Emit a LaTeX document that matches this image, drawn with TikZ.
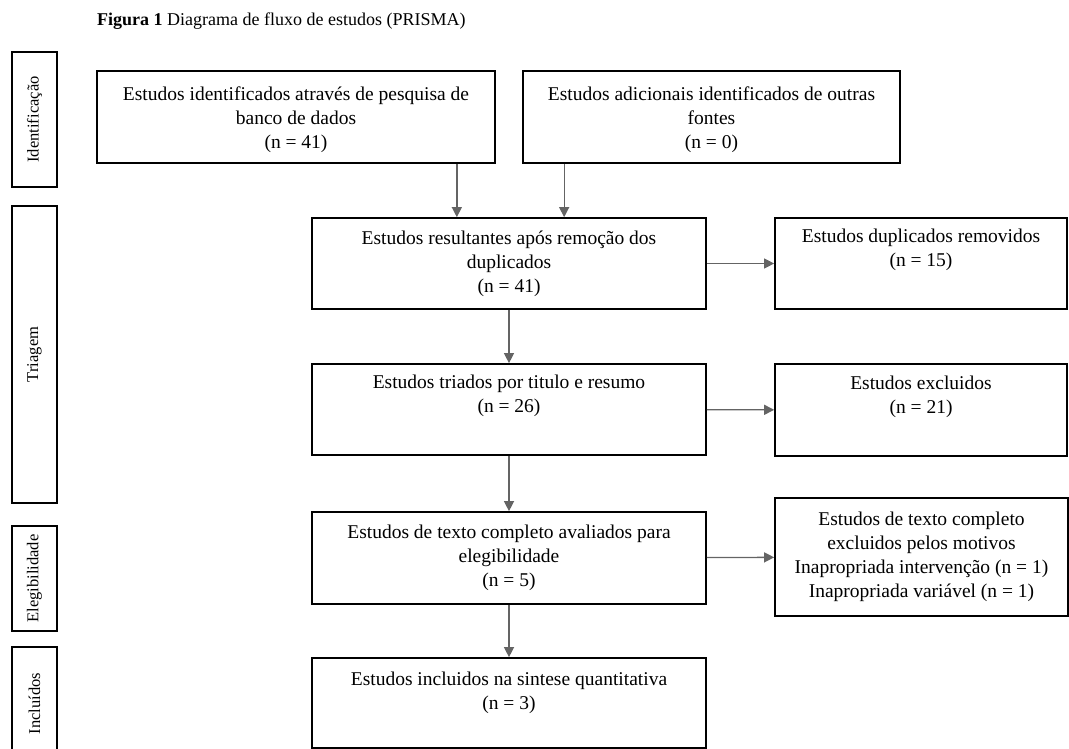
\documentclass[tikz,border=0pt]{standalone}
\usepackage{fontspec}
\setmainfont{Liberation Serif}
\usetikzlibrary{arrows.meta}
\definecolor{setacor}{RGB}{100,100,100}

\tikzset{
  caixa/.style={draw, line width=1.7pt, align=center, inner sep=0pt,
    font=\fontsize{19.5}{24}\selectfont},
  fase/.style={draw, line width=1.7pt, rotate=90, inner sep=0pt,
    minimum height=45pt, font=\fontsize{16.5}{20}\selectfont},
  seta/.style={draw=setacor, line width=1.3pt,
    -{Triangle[length=10pt,width=10pt,fill=setacor]}},
}

\begin{document}
\begin{tikzpicture}[x=1pt, y=-1pt]
\useasboundingbox (0,0) rectangle (1069,749);
\clip (0,0) rectangle (1069,749);

% Titulo
\node[anchor=base west, inner sep=0pt, font=\fontsize{18}{22}\selectfont] (titulo) at (97,26)
  {\textbf{Figura 1} Diagrama de fluxo de estudos (PRISMA)};

% Fases
\node[fase, minimum width=135pt] (fI) at (34.5,119.5) {Identificação};
\node[fase, minimum width=297pt] (fT) at (34.5,354.5) {Triagem};
\node[fase, minimum width=105pt] (fE) at (34.5,578.5) {Elegibilidade};
\node[fase, minimum width=113pt] (fN) at (34.5,703.5) {Incluídos};

% Identificacao
\node[caixa, minimum width=398pt, minimum height=92pt] (A) at (296,117)
  {\rule{0pt}{20pt}Estudos identificados através de pesquisa de\\banco de dados\\(n = 41)};
\node[caixa, minimum width=377pt, minimum height=92pt] (B) at (711.5,117)
  {\rule{0pt}{20pt}Estudos adicionais identificados de outras\\fontes\\(n = 0)};

% Triagem
\node[caixa, minimum width=394pt, minimum height=91pt] (C) at (509,263.5)
  {Estudos resultantes após remoção dos\\duplicados\\(n = 41)};
\node[caixa, minimum width=292pt, minimum height=91pt] (D) at (921,263.5)
  {Estudos duplicados removidos\\(n = 15)\\\strut};
\node[caixa, minimum width=394pt, minimum height=91pt] (E) at (509,409.5)
  {Estudos triados por titulo e resumo\\(n = 26)\\\strut};
\node[caixa, minimum width=292pt, minimum height=92pt] (F) at (921,410)
  {Estudos excluidos\\(n = 21)\\\strut};

% Elegibilidade
\node[caixa, minimum width=394pt, minimum height=92pt] (G) at (509,558)
  {Estudos de texto completo avaliados para\\elegibilidade\\(n = 5)};
\node[caixa, minimum width=293pt, minimum height=118pt] (H) at (921.5,557)
  {Estudos de texto completo\\excluidos pelos motivos\\Inapropriada intervenção (n = 1)\\Inapropriada variável (n = 1)};

% Incluidos
\node[caixa, minimum width=394pt, minimum height=90pt] (I) at (509,703)
  {\rule{0pt}{20pt}Estudos incluidos na sintese quantitativa\\(n = 3)\\\strut};

% Setas
\draw[seta] ([xshift=-39pt]A.south east) -- ([xshift=-39pt]A.south east |- C.north);
\draw[seta] ([xshift=42pt]B.south west) -- ([xshift=42pt]B.south west |- C.north);
\draw[seta] (C) -- (D);
\draw[seta] (C) -- (E);
\draw[seta] (E) -- (F);
\draw[seta] (E) -- (G);
\draw[seta] (G) -- (H);
\draw[seta] (G) -- (I);

\end{tikzpicture}
\end{document}
